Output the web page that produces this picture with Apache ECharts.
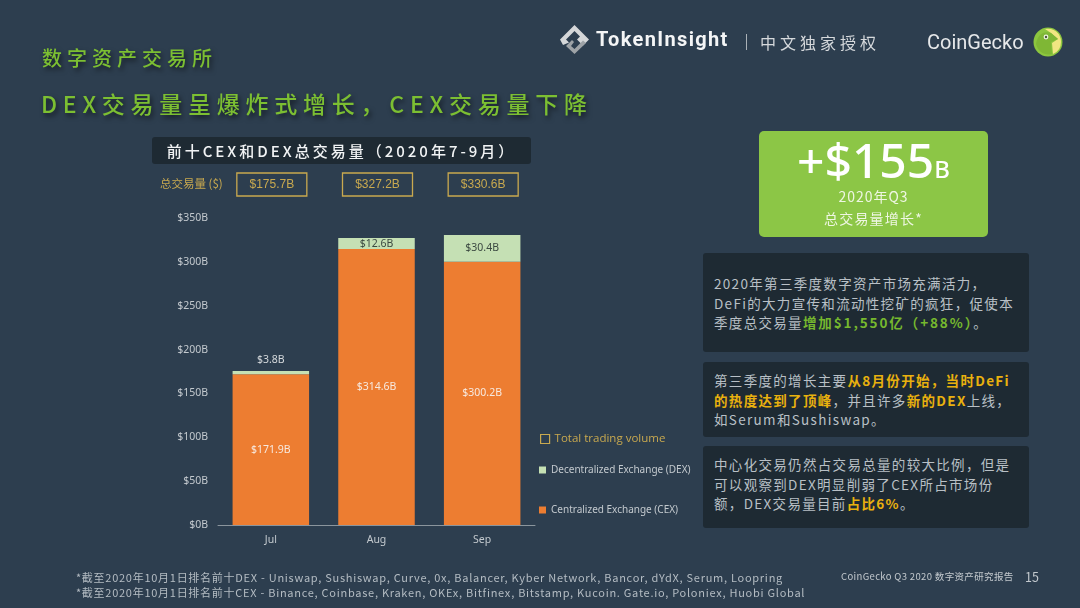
<!DOCTYPE html>
<html lang="zh">
<head>
<meta charset="UTF-8">
<title>数字资产交易所</title>
<script src="https://cdn.jsdelivr.net/npm/echarts@6/dist/echarts.min.js"></script>
<style>
    html,body{margin:0;padding:0;}
    body{
        position:relative;
        width:1080px;
        height:608px;
        overflow:hidden;
        background:#2d3e4f;
        font-family:"Noto Sans CJK SC","Noto Sans",sans-serif;
    }
    #chart{position:absolute;left:0;top:0;width:1080px;height:608px;}
    .t{position:absolute;white-space:nowrap;line-height:1;}
    .head{color:#7cbf32;font-weight:500;text-shadow:2px 3px 5px rgba(0,0,0,.55);}
    .panel{
        position:absolute;left:703px;width:326px;
        background:#1e2a33;border-radius:3px;
        color:#b9c0c6;font-size:13.5px;letter-spacing:1.32px;line-height:19.6px;
        box-sizing:border-box;padding-left:11px;white-space:nowrap;
    }
    .g{color:#76b82e;font-weight:700;letter-spacing:1.9px;}
    .y{color:#e9b10e;font-weight:700;}
    .foot{color:#b4bcc3;font-size:11px;letter-spacing:.73px;}
</style>
</head>
<body>
<div id="chart"></div>

<div class="t head" style="left:42px;top:48px;font-size:20px;letter-spacing:5px;">数字资产交易所</div>
<div class="t head" style="left:41px;top:92px;font-size:23px;letter-spacing:5.75px;">DEX交易量呈爆炸式增长，CEX交易量下降</div>

<div class="t" style="left:152px;top:137px;width:379px;height:27px;line-height:27px;background:#1e2a33;border-radius:3px;color:#f1f3f4;font-size:15px;font-weight:500;letter-spacing:3px;text-align:center;">前十CEX和DEX总交易量（2020年7-9月）</div>
<div class="t" style="left:160px;top:178px;font-size:11.5px;color:#c9a94f;">总交易量 ($)</div>

<!-- logos -->
<svg style="position:absolute;left:559px;top:24px;" width="32" height="32" viewBox="0 0 32 32">
    <path d="M15.5 1 L30 15.5 L24 21.5 L18 15.5 L21 12.5 L15.5 7 L7 15.5 L10 18.5 L4 21 L1 15.5 Z" fill="#d5d7d9"/>
    <path d="M15.5 30 L7 22 L13 16 L15 18 L12 22 L15.5 25 L24 16.5 L27 19 Z" fill="#9ea3a7"/>
</svg>
<div class="t" style="left:596px;top:29px;font-size:20px;font-weight:700;color:#f4f5f6;font-family:'Roboto';letter-spacing:1.35px;">TokenInsight</div>
<div style="position:absolute;left:746px;top:34px;width:1px;height:16px;background:#aab1b7;"></div>
<div class="t" style="left:760px;top:34px;font-size:16px;letter-spacing:4px;color:#d6d9dc;">中文独家授权</div>
<div class="t" style="left:927px;top:32px;font-size:20px;color:#e6e8ea;font-family:'Roboto';">CoinGecko</div>
<svg style="position:absolute;left:1033px;top:27px;" width="30" height="30" viewBox="0 0 30 30">
    <circle cx="15" cy="15" r="14.5" fill="#8cc63f"/>
    <path d="M12 2 A13 13 0 0 1 28 15 A13 13 0 0 1 20 27 L19 16 L25 12 L18 6 Z" fill="#f1e682"/>
    <path d="M3 17 C5 6 12 4 18 6 L25 12 L18 15 L19 27 C12 29 5 25 3 17 Z" fill="#7fb735"/>
    <circle cx="13" cy="10" r="2.4" fill="#eef3e0"/><circle cx="13" cy="10" r="1.2" fill="#4a5a3a"/>
</svg>

<!-- green stat box -->
<div style="position:absolute;left:759px;top:131px;width:229px;height:106px;background:#8cc646;border-radius:5px;"></div>
<div class="t" style="left:759px;width:229px;top:136px;text-align:center;color:#fff;font-size:48px;font-family:'Noto Sans';font-weight:500;">+$155<span style="font-size:24px;">B</span></div>
<div class="t" style="left:759px;width:229px;top:189px;text-align:center;color:#eef6e2;font-size:14px;letter-spacing:1px;">2020年Q3</div>
<div class="t" style="left:759px;width:229px;top:211px;text-align:center;color:#eef6e2;font-size:14px;letter-spacing:1.2px;">总交易量增长*</div>

<!-- text panels -->
<div class="panel" style="top:253px;height:99px;padding-top:21px;">2020年第三季度数字资产市场充满活力，<br>DeFi的大力宣传和流动性挖矿的疯狂，促使本<br>季度总交易量<span class="g">增加$1,550亿（+88%）</span>。</div>
<div class="panel" style="top:362px;height:75px;padding-top:9px;">第三季度的增长主要<span class="y">从8月份开始，当时DeFi<br>的热度达到了顶峰</span>，并且许多<span class="y">新的DEX</span>上线，<br>如Serum和Sushiswap。</div>
<div class="panel" style="top:446px;height:82px;padding-top:9px;">中心化交易仍然占交易总量的较大比例，但是<br>可以观察到DEX明显削弱了CEX所占市场份<br>额，DEX交易量目前<span class="y">占比6%</span>。</div>

<div class="t foot" style="left:76px;top:572px;">*截至2020年10月1日排名前十DEX - Uniswap, Sushiswap, Curve, 0x, Balancer, Kyber Network, Bancor, dYdX, Serum, Loopring</div>
<div class="t foot" style="left:76px;top:587px;">*截至2020年10月1日排名前十CEX - Binance, Coinbase, Kraken, OKEx, Bitfinex, Bitstamp, Kucoin. Gate.io, Poloniex, Huobi Global</div>
<div class="t" style="left:841px;top:572px;font-size:9.5px;color:#c3c9ce;letter-spacing:.35px;">CoinGecko Q3 2020 数字资产研究报告</div>
<div class="t" style="left:1025px;top:571px;font-size:12.5px;color:#c3c9ce;">15</div>

<script>
    var months = ['Jul', 'Aug', 'Sep'];
    var cexValues = [171.9, 314.6, 300.2];
    var dexValues = [3.8, 12.6, 30.4];
    var totalValues = [175.7, 327.2, 330.6];
    var yTicks = [0, 50, 100, 150, 200, 250, 300, 350];

    var cexName = 'Centralized Exchange (CEX)';
    var dexName = 'Decentralized Exchange (DEX)';
    var totalName = 'Total trading volume';
    var gold = '#c9a94f';

    function money(v){
        return '$' + v + 'B';
    }

    var chart = echarts.init(document.getElementById('chart'));
    chart.setOption({
        animation: false,
        textStyle: {fontFamily: '"Noto Sans","Noto Sans CJK SC",sans-serif'},
        grid: {left: 218, top: 218, width: 317, height: 307},
        legend: [
            {
                left: 535, top: 428, orient: 'vertical', itemWidth: 9, itemHeight: 9,
                itemGap: 0, selectedMode: false,
                textStyle: {color: gold, fontSize: 11.5, fontFamily: 'Open Sans'},
                data: [{name: totalName, icon: 'rect', itemStyle: {color: 'transparent', borderColor: gold, borderWidth: 1.2}}]
            },
            {
                left: 534, top: 460, itemWidth: 7, itemHeight: 7, selectedMode: false,
                textStyle: {color: '#c3c9ce', fontSize: 10},
                data: [{name: dexName, icon: 'rect'}]
            },
            {
                left: 534, top: 500, itemWidth: 7, itemHeight: 7, selectedMode: false,
                textStyle: {color: '#c3c9ce', fontSize: 10},
                data: [{name: cexName, icon: 'rect'}]
            }
        ],
        xAxis: {
            type: 'category',
            data: months,
            axisTick: {show: false},
            axisLine: {lineStyle: {color: '#8b959d', width: 1}},
            axisLabel: {color: '#c3c9ce', fontSize: 10.5, margin: 10}
        },
        yAxis: {
            type: 'value',
            min: 0,
            max: 350,
            interval: 50,
            axisLine: {show: false},
            axisTick: {show: false},
            splitLine: {show: false},
            axisLabel: {
                color: '#c3c9ce', fontSize: 10.5, margin: 10,
                formatter: function(v){ return yTicks.indexOf(v) >= 0 ? money(v) : ''; }
            }
        },
        series: [
            {
                name: cexName,
                type: 'bar',
                stack: 'vol',
                barWidth: 76.5,
                itemStyle: {color: '#ed7d31'},
                label: {
                    show: true, position: 'inside', color: '#f7e9df', fontSize: 10.5,
                    formatter: function(p){ return money(p.value); }
                },
                data: cexValues
            },
            {
                name: dexName,
                type: 'bar',
                stack: 'vol',
                barWidth: 76.5,
                itemStyle: {color: '#c5e0b4'},
                label: {
                    show: true, position: 'inside', color: '#3c4a42', fontSize: 10.5,
                    formatter: function(p){ return money(p.value); }
                },
                data: dexValues.map(function(v, i){
                    // Jul segment is too thin, its label sits above the bar
                    if(i === 0){
                        return {value: v, label: {position: 'top', distance: 6, color: '#d5d9dc'}};
                    }
                    return v;
                })
            },
            {
                // the boxed totals in the row above the plot
                name: totalName,
                type: 'custom',
                itemStyle: {color: 'transparent', borderColor: gold},
                clip: false,
                renderItem: function(params, api){
                    var x = api.coord([api.value(0), 0])[0];
                    var top = api.coord([0, 350])[1] - 45;
                    return {
                        type: 'group',
                        children: [
                            {
                                type: 'rect',
                                shape: {x: x - 34, y: top, width: 70, height: 23},
                                style: {fill: 'transparent', stroke: gold, lineWidth: 1.3}
                            },
                            {
                                type: 'text',
                                style: {
                                    x: x + 1, y: top + 11.5, text: money(api.value(1)),
                                    fill: gold, fontSize: 12, align: 'center', verticalAlign: 'middle',
                                    fontFamily: 'Liberation Sans'
                                }
                            }
                        ]
                    };
                },
                encode: {x: 0, y: 1},
                data: totalValues.map(function(v, i){ return [i, v]; })
            }
        ]
    });
</script>
</body>
</html>
